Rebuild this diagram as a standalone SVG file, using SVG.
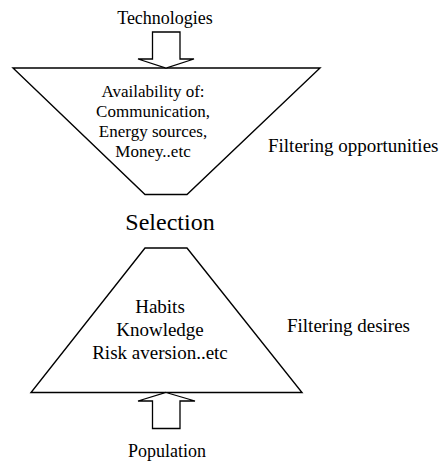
<svg xmlns="http://www.w3.org/2000/svg" width="441" height="464" viewBox="0 0 441 464">
  <style>
    .shape { fill: #ffffff; stroke: #000000; stroke-width: 1.4; stroke-linejoin: miter; }
    .arrow { fill: #ffffff; stroke: #000000; stroke-width: 1.3; stroke-linejoin: miter; }
    text { font-family: "Liberation Serif", "Times New Roman", serif; fill: #000000; }
    .inner { font-size: 17px; text-anchor: middle; }
    .inner2 { font-size: 19px; text-anchor: middle; }
    .side { font-size: 19px; }
    .io { font-size: 18px; text-anchor: middle; }
    .mid { font-size: 24px; text-anchor: middle; }
  </style>
  <rect width="441" height="464" fill="#ffffff"/>

  <!-- upper funnel: opportunities -->
  <g id="opportunities">
    <polygon class="shape" points="13,68 320,68 187,194.5 145,194.5"/>
    <text class="inner" x="153" y="97">Availability of:</text>
    <text class="inner" x="153" y="117">Communication,</text>
    <text class="inner" x="153" y="137">Energy sources,</text>
    <text class="inner" x="153" y="157">Money..etc</text>
  </g>

  <!-- lower funnel: desires -->
  <g id="desires">
    <polygon class="shape" points="145,248 187,248 302,392.5 31,392.5"/>
    <text class="inner2" x="160" y="313">Habits</text>
    <text class="inner2" x="160" y="336">Knowledge</text>
    <text class="inner2" x="160" y="359">Risk aversion..etc</text>
  </g>

  <g id="technologies">
    <text class="io" x="165" y="24">Technologies</text>
  </g>

  <g id="population">
    <text class="io" x="167" y="457">Population</text>
  </g>

  <g id="selection">
    <text class="mid" x="170" y="230">Selection</text>
  </g>

  <g id="filtering-opportunities">
    <text class="side" x="268" y="152">Filtering opportunities</text>
  </g>

  <g id="filtering-desires">
    <text class="side" x="287" y="332">Filtering desires</text>
  </g>

  <!-- block arrows feeding each funnel -->
  <g id="connectors">
    <polygon class="arrow" points="152.5,32 180,32 180,59 194,59 166,68 138,59 152.5,59"/>
    <polygon class="arrow" points="166,392.5 195,401 180,401 180,428.5 152.5,428.5 152.5,401 138,401"/>
  </g>
</svg>
